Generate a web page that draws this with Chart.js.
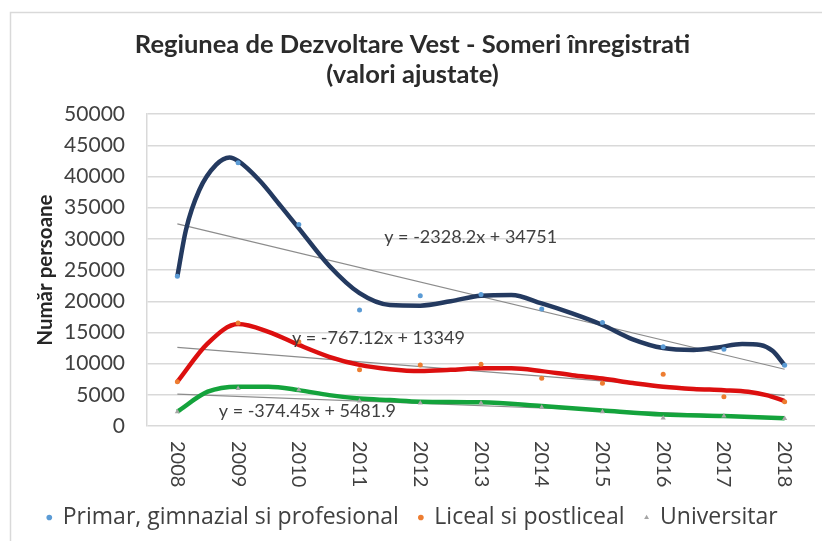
<!DOCTYPE html>
<html>
<head>
<meta charset="utf-8">
<script src="https://cdn.jsdelivr.net/npm/chart.js@4"></script>
<style>
html,body{margin:0;padding:0;background:#fff;}
canvas{display:block;}
</style>
</head>
<body>
<canvas id="c" width="822" height="541"></canvas>
<script>
// ---- data ----
const years = [2008, 2009, 2010, 2011, 2012, 2013, 2014, 2015, 2016, 2017, 2018];
const primar = [24000, 42200, 32300, 18600, 20900, 21100, 18750, 16600, 12700, 12300, 9750];
const liceal = [7100, 16500, 13500, 9000, 9800, 9900, 7650, 6850, 8300, 4700, 3900];
const universitar = [2300, 6000, 5800, 4000, 3700, 3700, 3000, 2300, 1300, 1600, 1200];

// smooth (polynomial) trend curves
const primarCurveX = [2008, 2008.14, 2008.36, 2008.64, 2008.86, 2009, 2009.35, 2009.7, 2010, 2010.5, 2011, 2011.5, 2012, 2012.5, 2013, 2013.5, 2014, 2014.5, 2015, 2015.5, 2016, 2016.5, 2016.9, 2017.3, 2017.6, 2017.8, 2018];
const primarCurveY = [24000, 31400, 37800, 41900, 43050, 42500, 39400, 35300, 31700, 25700, 21300, 19400, 19300, 20000, 20900, 21000, 19650, 18050, 16200, 13900, 12500, 12200, 12600, 13150, 13000, 12050, 9750];
const licealCurveX = [2008, 2008.5, 2009, 2009.5, 2010, 2010.5, 2011, 2011.5, 2012, 2012.5, 2013, 2013.5, 2014, 2014.5, 2015, 2015.5, 2016, 2016.5, 2017, 2017.4, 2017.7, 2018];
const licealCurveY = [7100, 13250, 16350, 15100, 13000, 11100, 9800, 9100, 8800, 9000, 9250, 9250, 8800, 8150, 7600, 6900, 6300, 5950, 5750, 5500, 4950, 4000];
const univCurveX = [2008, 2008.5, 2009, 2009.5, 2010, 2010.5, 2011, 2011.5, 2012, 2013, 2014, 2015, 2016, 2017, 2018];
const univCurveY = [2300, 5500, 6300, 6300, 5750, 4950, 4400, 4150, 3900, 3800, 3200, 2500, 1850, 1600, 1230];

// linear trend lines (endpoints at 2008 and 2018)
const trendX = [2008, 2018];
const primarTrend = [32400, 9100];
const licealTrend = [12600, 4900];
const univTrend = [5100, 1400];

// equation labels: text, x (year), y (value)
const eqTexts = ['y = -2328.2x + 34751', 'y = -767.12x + 13349', 'y = -374.45x + 5481.9'];
const eqX = [2012.83, 2011.31, 2010.14];
const eqY = [30300, 14100, 2300];

const yTicks = [0, 5000, 10000, 15000, 20000, 25000, 30000, 35000, 40000, 45000, 50000];

const zip = (xs, ys) => xs.map((x, i) => ({x: x, y: ys[i]}));

Chart.defaults.font.family = 'Lato, "Open Sans", sans-serif';
Chart.defaults.color = '#404040';

const extras = {
  id: 'extras',
  beforeDraw(chart) {
    const ctx = chart.ctx;
    ctx.save();
    ctx.strokeStyle = '#d9d9d9';
    ctx.lineWidth = 1.5;
    ctx.strokeRect(10.5, 12.5, 900, 700);
    ctx.restore();
  },
  afterDraw(chart) {
    const ctx = chart.ctx;
    const xs = chart.scales.x, ys = chart.scales.y;
    ctx.save();
    ctx.font = '18px Lato, "Open Sans", sans-serif';
    ctx.fillStyle = '#404040';
    ctx.textAlign = 'center';
    ctx.textBaseline = 'middle';
    eqTexts.forEach((t, i) => {
      ctx.fillText(t, xs.getPixelForValue(eqX[i]), ys.getPixelForValue(eqY[i]));
    });
    // x tick labels rotated clockwise
    ctx.font = '20px Lato, "Open Sans", sans-serif';
    ctx.textAlign = 'left';
    xs.ticks.forEach(tk => {
      const px = xs.getPixelForValue(tk.value);
      ctx.save();
      ctx.translate(px, chart.chartArea.bottom + 15);
      ctx.rotate(Math.PI / 2);
      ctx.fillText(String(tk.value), 0, 0);
      ctx.restore();
    });
    ctx.restore();
  }
};

new Chart(document.getElementById('c'), {
  type: 'scatter',
  data: {
    datasets: [
      { label: 'Primar, gimnazial si profesional', data: zip(years, primar), showLine: false,
        pointStyle: 'circle', pointRadius: 2.5, backgroundColor: '#5b9bd5', borderColor: '#5b9bd5', borderWidth: 0 },
      { label: 'Liceal si postliceal', data: zip(years, liceal), showLine: false,
        pointStyle: 'circle', pointRadius: 2.5, backgroundColor: '#ed7d31', borderColor: '#ed7d31', borderWidth: 0 },
      { label: 'Universitar', data: zip(years, universitar), showLine: false,
        pointStyle: 'triangle', pointRadius: 3, backgroundColor: '#a5a5a5', borderColor: '#a5a5a5', borderWidth: 0 },
      { label: 'c1', data: zip(primarCurveX, primarCurveY), showLine: true, pointRadius: 0,
        borderColor: '#243a60', borderWidth: 4.5, cubicInterpolationMode: 'monotone' },
      { label: 'c2', data: zip(licealCurveX, licealCurveY), showLine: true, pointRadius: 0,
        borderColor: '#dc0f0f', borderWidth: 4.5, cubicInterpolationMode: 'monotone' },
      { label: 'c3', data: zip(univCurveX, univCurveY), showLine: true, pointRadius: 0,
        borderColor: '#14a33c', borderWidth: 4.5, cubicInterpolationMode: 'monotone' },
      { label: 't1', data: zip(trendX, primarTrend), showLine: true, pointRadius: 0, borderColor: '#8c8c8c', borderWidth: 1.2 },
      { label: 't2', data: zip(trendX, licealTrend), showLine: true, pointRadius: 0, borderColor: '#8c8c8c', borderWidth: 1.2 },
      { label: 't3', data: zip(trendX, univTrend), showLine: true, pointRadius: 0, borderColor: '#8c8c8c', borderWidth: 1.2 }
    ]
  },
  options: {
    responsive: false,
    animation: false,
    devicePixelRatio: 1,
    layout: { padding: { left: 10, right: 7, top: 0, bottom: 2 } },
    plugins: {
      tooltip: { enabled: false },
      title: {
        display: true,
        text: ['Regiunea de Dezvoltare Vest - Someri înregistrati', '(valori ajustate)'],
        font: { size: 25.5, weight: 'bold', lineHeight: 1.18 },
        color: '#2b2b2b',
        padding: { top: 30, bottom: 24 }
      },
      legend: {
        position: 'bottom',
        labels: {
          filter: (item) => item.datasetIndex < 3,
          usePointStyle: true,
          boxWidth: 4, boxHeight: 4,
          font: { size: 23, family: '"Open Sans", Lato, sans-serif' },
          color: '#404040',
          padding: 20
        }
      }
    },
    scales: {
      x: {
        type: 'linear',
        min: 2007.5, max: 2018.5,
        afterFit: (s) => { s.height = 60; },
        afterBuildTicks: (s) => { s.ticks = years.map(v => ({value: v})); },
        grid: { display: false },
        border: { display: false },
        ticks: { display: false }
      },
      y: {
        min: 0, max: 50000,
        afterFit: (s) => { s.width = 137; },
        afterBuildTicks: (s) => { s.ticks = yTicks.map(v => ({value: v})); },
        grid: { color: '#d9d9d9', lineWidth: 1.5, drawTicks: false },
        border: { display: true, color: '#d9d9d9', width: 1.5 },
        ticks: { font: { size: 21 }, color: '#404040', padding: 22, callback: (v) => String(v) },
        title: {
          display: true, text: 'Număr persoane',
          font: { size: 20.5, weight: 'bold' }, color: '#262626',
          padding: { top: 22.7, bottom: 0 }
        }
      }
    }
  },
  plugins: [extras]
});
</script>
</body>
</html>
